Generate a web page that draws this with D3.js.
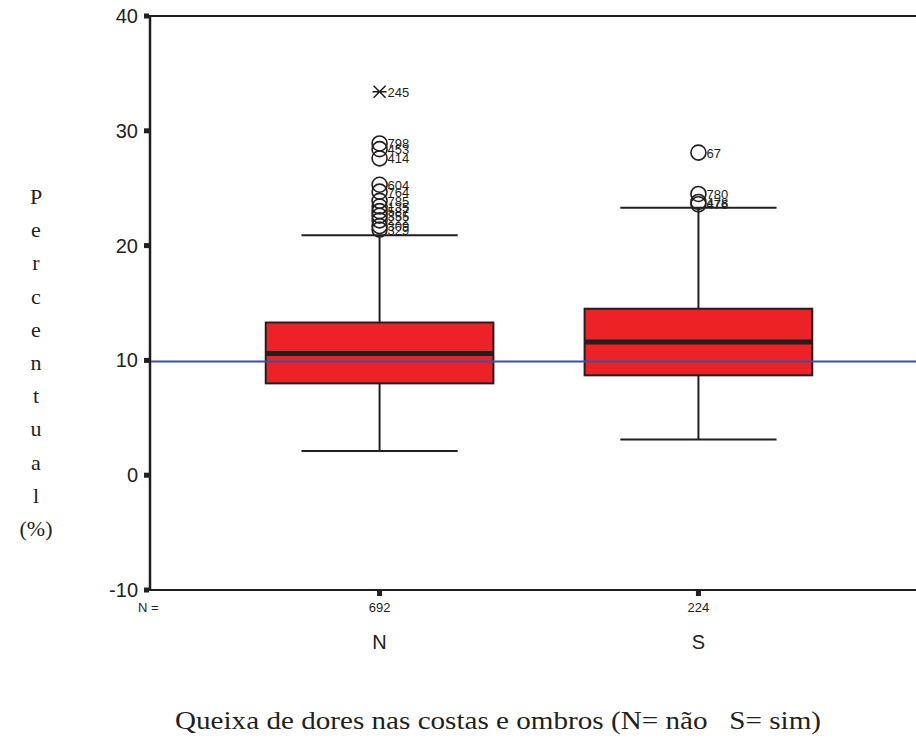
<!DOCTYPE html>
<html>
<head>
<meta charset="utf-8">
<script src="https://cdn.jsdelivr.net/npm/d3@7"></script>
<style>
  body { margin: 0; background: #fff; }
  svg { display: block; }
</style>
</head>
<body>
<svg width="916" height="738"></svg>
<script>
// Data
var groups = ["N", "S"];
var counts = [692, 224];
var q1 = [8.0, 8.7];
var median = [10.6, 11.6];
var q3 = [13.3, 14.5];
var whiskLow = [2.1, 3.1];
var whiskHigh = [20.9, 23.3];
var refValue = 9.9;
var yTicks = [-10, 0, 10, 20, 30, 40];

// outliers: [group, value, label]
var outliers = [
  ["N", 28.9, "798"], ["N", 28.4, "453"], ["N", 27.6, "414"],
  ["N", 25.3, "604"], ["N", 24.7, "764"], ["N", 23.9, "785"],
  ["N", 23.4, "135"], ["N", 23.0, "587"], ["N", 22.6, "355"],
  ["N", 22.2, "222"], ["N", 21.7, "309"], ["N", 21.4, "329"],
  ["S", 28.1, "67"], ["S", 24.5, "780"], ["S", 23.8, "478"], ["S", 23.6, "476"]
];
var extremes = [["N", 33.4, "245"]];

var SANS = "'Liberation Sans', Arial, sans-serif";
var SERIF = "'Liberation Serif', 'Times New Roman', serif";

var svg = d3.select("svg");
var width = +svg.attr("width");

var plotLeft = 150, plotTop = 16, plotBottom = 590;

var x = d3.scalePoint()
  .domain(groups)
  .range([plotLeft, 928])
  .padding(0.72);

var y = d3.scaleLinear()
  .domain([-10, 40])
  .range([plotBottom, plotTop]);

var boxW = x.step() * 0.714;
var capW = x.step() * 0.49;
var ink = "#231f20";

// frame: left axis, top and bottom lines
svg.append("line")
  .attr("x1", plotLeft).attr("x2", width).attr("y1", plotTop).attr("y2", plotTop)
  .attr("stroke", ink).attr("stroke-width", 2);
svg.append("line")
  .attr("x1", plotLeft).attr("x2", width).attr("y1", plotBottom).attr("y2", plotBottom)
  .attr("stroke", ink).attr("stroke-width", 2);
svg.append("line")
  .attr("x1", plotLeft).attr("x2", plotLeft).attr("y1", plotTop - 1).attr("y2", plotBottom + 1)
  .attr("stroke", ink).attr("stroke-width", 2.5);

// y ticks and labels
var yt = svg.append("g");
yt.selectAll("rect")
  .data(yTicks)
  .enter().append("rect")
  .attr("x", plotLeft - 6).attr("y", d => y(d) - 2.5)
  .attr("width", 5).attr("height", 5)
  .attr("fill", ink);
yt.selectAll("text")
  .data(yTicks)
  .enter().append("text")
  .attr("x", plotLeft - 12).attr("y", d => y(d) + 7)
  .attr("text-anchor", "end")
  .style("font-family", SANS)
  .style("font-size", "20px")
  .attr("fill", ink)
  .text(d => d);

// x ticks
svg.append("g").selectAll("rect")
  .data(groups)
  .enter().append("rect")
  .attr("x", d => x(d) - 2.5).attr("y", plotBottom + 1)
  .attr("width", 5).attr("height", 5)
  .attr("fill", ink);

// N = counts row
svg.append("text")
  .attr("x", 138).attr("y", 612)
  .style("font-family", SANS)
  .style("font-size", "13px")
  .attr("fill", ink)
  .text("N =");
svg.append("g").selectAll("text")
  .data(groups)
  .enter().append("text")
  .attr("x", d => x(d)).attr("y", 612)
  .attr("text-anchor", "middle")
  .style("font-family", SANS)
  .style("font-size", "13px")
  .attr("fill", ink)
  .text((d, i) => counts[i]);

// category labels
svg.append("g").selectAll("text")
  .data(groups)
  .enter().append("text")
  .attr("x", d => x(d)).attr("y", 649)
  .attr("text-anchor", "middle")
  .style("font-family", SANS)
  .style("font-size", "20px")
  .attr("fill", ink)
  .text(d => d);

// boxes
var box = svg.append("g").selectAll("g")
  .data(groups)
  .enter().append("g");

box.append("line")
  .attr("x1", d => x(d)).attr("x2", d => x(d))
  .attr("y1", (d, i) => y(whiskHigh[i])).attr("y2", (d, i) => y(q3[i]))
  .attr("stroke", ink).attr("stroke-width", 2);
box.append("line")
  .attr("x1", d => x(d)).attr("x2", d => x(d))
  .attr("y1", (d, i) => y(q1[i])).attr("y2", (d, i) => y(whiskLow[i]))
  .attr("stroke", ink).attr("stroke-width", 2);
box.append("line")
  .attr("x1", d => x(d) - capW / 2).attr("x2", d => x(d) + capW / 2)
  .attr("y1", (d, i) => y(whiskHigh[i])).attr("y2", (d, i) => y(whiskHigh[i]))
  .attr("stroke", ink).attr("stroke-width", 2);
box.append("line")
  .attr("x1", d => x(d) - capW / 2).attr("x2", d => x(d) + capW / 2)
  .attr("y1", (d, i) => y(whiskLow[i])).attr("y2", (d, i) => y(whiskLow[i]))
  .attr("stroke", ink).attr("stroke-width", 2);
box.append("rect")
  .attr("x", d => x(d) - boxW / 2)
  .attr("width", boxW)
  .attr("y", (d, i) => y(q3[i]))
  .attr("height", (d, i) => y(q1[i]) - y(q3[i]))
  .attr("fill", "#ec2227")
  .attr("stroke", ink).attr("stroke-width", 2);
box.append("line")
  .attr("x1", d => x(d) - boxW / 2).attr("x2", d => x(d) + boxW / 2)
  .attr("y1", (d, i) => y(median[i])).attr("y2", (d, i) => y(median[i]))
  .attr("stroke", ink).attr("stroke-width", 5);

// reference line
svg.append("line")
  .attr("x1", plotLeft + 1).attr("x2", width)
  .attr("y1", y(refValue)).attr("y2", y(refValue))
  .attr("stroke", "#3d4fa8").attr("stroke-width", 2);

// outliers
var out = svg.append("g").selectAll("g")
  .data(outliers)
  .enter().append("g");
out.append("circle")
  .attr("cx", d => x(d[0])).attr("cy", d => y(d[1]))
  .attr("r", 7.5)
  .attr("fill", "none")
  .attr("stroke", ink).attr("stroke-width", 1.6);
out.append("text")
  .attr("x", d => x(d[0]) + 8).attr("y", d => y(d[1]) + 5)
  .style("font-family", SANS)
  .style("font-size", "13px")
  .attr("fill", ink)
  .text(d => d[2]);

// extremes (asterisk)
var ext = svg.append("g").selectAll("g")
  .data(extremes)
  .enter().append("g");
ext.append("path")
  .attr("d", d => {
    var cx = x(d[0]), cy = y(d[1]), s = 6;
    return "M" + (cx - s) + "," + (cy - s) + "L" + (cx + s) + "," + (cy + s) +
      "M" + (cx - s) + "," + (cy + s) + "L" + (cx + s) + "," + (cy - s) +
      "M" + (cx - s - 1) + "," + cy + "L" + (cx + s + 1) + "," + cy;
  })
  .attr("stroke", ink).attr("stroke-width", 1.6).attr("fill", "none");
ext.append("text")
  .attr("x", d => x(d[0]) + 8).attr("y", d => y(d[1]) + 5)
  .style("font-family", SANS)
  .style("font-size", "13px")
  .attr("fill", ink)
  .text(d => d[2]);

// y title, letters stacked
var yTitle = ["P", "e", "r", "c", "e", "n", "t", "u", "a", "l", "(%)"];
svg.append("g").selectAll("text")
  .data(yTitle)
  .enter().append("text")
  .attr("x", 36).attr("y", (d, i) => 204 + i * 33.2)
  .attr("text-anchor", "middle")
  .style("font-family", SERIF)
  .style("font-size", "22px")
  .attr("fill", ink)
  .text(d => d);

// x title
svg.append("text")
  .attr("x", 498).attr("y", 729)
  .attr("text-anchor", "middle")
  .attr("textLength", 646)
  .attr("lengthAdjust", "spacingAndGlyphs")
  .style("font-family", SERIF)
  .style("font-size", "26px")
  .style("white-space", "pre")
  .attr("fill", ink)
  .text("Queixa de dores nas costas e ombros (N= não   S= sim)");
</script>
</body>
</html>
